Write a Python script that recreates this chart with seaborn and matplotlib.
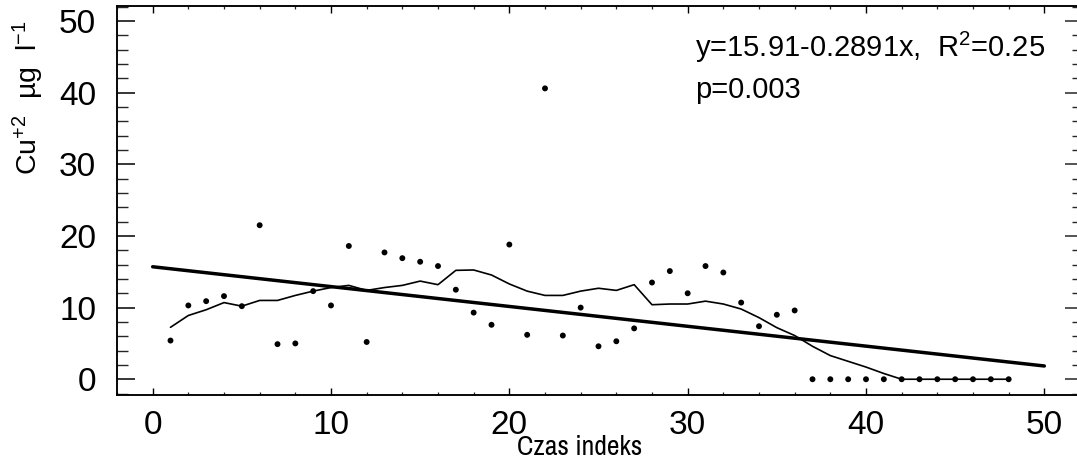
import numpy as np
import pandas as pd
import matplotlib
matplotlib.use("Agg")
import matplotlib.pyplot as plt
from matplotlib.ticker import MultipleLocator
import seaborn as sns

# ---- data ----
time_index = list(range(1, 49))
cu_values = [5.4, 10.3, 10.9, 11.6, 10.2, 21.5, 4.9, 5.0, 12.3, 10.3,
             18.6, 5.2, 17.7, 16.9, 16.4, 15.8, 12.5, 9.3, 7.6, 18.8,
             6.2, 40.6, 6.1, 10.0, 4.6, 5.3, 7.1, 13.5, 15.1, 12.0,
             15.8, 14.9, 10.7, 7.4, 9.0, 9.6, 0.0, 0.0, 0.0, 0.0,
             0.0, 0.0, 0.0, 0.0, 0.0, 0.0, 0.0, 0.0]
smooth_values = [7.25, 8.9, 9.7, 10.7, 10.2, 11.0, 11.0, 11.7, 12.3, 12.8,
                 13.1, 12.4, 12.8, 13.1, 13.7, 13.2, 15.2, 15.25, 14.55, 13.3,
                 12.3, 11.7, 11.7, 12.3, 12.7, 12.4, 13.2, 10.4, 10.5, 10.5,
                 10.9, 10.5, 9.8, 8.6, 7.2, 6.1, 4.6, 3.3, 2.5, 1.7,
                 0.8, 0.0, 0.0, 0.0, 0.0, 0.0, 0.0, 0.0]
reg_x = [0, 50]
reg_y = [15.7, 1.85]
x_ticks = [0, 10, 20, 30, 40, 50]
y_ticks = [0, 10, 20, 30, 40, 50]
eq_text = "y=15.91-0.2891x,  R$^2$=0.25"
p_text = "p=0.003"
x_label = "Czas indeks"
y_label = "Cu$^{+2}$  µg  l$^{-1}$"

pts = pd.DataFrame({"t": time_index, "cu": cu_values})
sm = pd.DataFrame({"t": time_index, "s": smooth_values})
reg = pd.DataFrame({"t": reg_x, "r": reg_y})

sns.set_theme(style="white")
plt.rcParams["font.family"] = ["Liberation Sans", "DejaVu Sans"]
plt.rcParams["mathtext.fontset"] = "custom"
plt.rcParams["mathtext.rm"] = "Liberation Sans"
plt.rcParams["mathtext.it"] = "Liberation Sans"
plt.rcParams["mathtext.default"] = "regular"

fig = plt.figure(figsize=(10.77, 4.65), dpi=100)
ax = fig.add_axes([117/1077, 1 - 395/465, (1080 - 117)/1077, (395 - 6)/465])

sns.lineplot(data=reg, x="t", y="r", ax=ax, color="black", linewidth=2.5)
sns.lineplot(data=sm, x="t", y="s", ax=ax, color="black", linewidth=1.2)
sns.scatterplot(data=pts, x="t", y="cu", ax=ax, color="black", s=18,
                edgecolor="none", zorder=5)

ax.set_xlim(-2.0, 52.0)
ax.set_ylim(-2.2, 52.1)
ax.set_xlabel("")
ax.set_ylabel("")

ax.xaxis.set_minor_locator(MultipleLocator(2))
ax.yaxis.set_minor_locator(MultipleLocator(2))
ax.set_xticks(x_ticks)
ax.set_yticks(y_ticks)

tick_family = ["Liberation Sans", "DejaVu Sans"]
ax.set_xticklabels([str(v) for v in x_ticks], family=tick_family, fontsize=24)
ax.set_yticklabels([str(v) for v in y_ticks], family=tick_family, fontsize=24)

ax.tick_params(axis="x", which="major", direction="in", length=5, width=1.0,
               top=True, bottom=True, pad=11, colors="black")
ax.tick_params(axis="x", which="minor", direction="in", length=2.5, width=0.9,
               top=True, bottom=True)
ax.tick_params(axis="y", which="major", direction="in", length=13, width=1.1,
               left=True, right=False, pad=15, colors="black")
ax.tick_params(axis="y", which="minor", direction="in", length=8, width=1.0,
               left=True, right=False)

ax2 = ax.twinx()
ax2.set_ylim(ax.get_ylim())
ax2.yaxis.set_major_locator(MultipleLocator(10))
ax2.yaxis.set_minor_locator(MultipleLocator(2))
ax2.tick_params(axis="y", which="major", direction="in", length=11, width=1.1,
                labelright=False, right=True)
ax2.tick_params(axis="y", which="minor", direction="in", length=5.5, width=1.0,
                right=True)
ax2.grid(False)

for a in (ax, ax2):
    for sp in a.spines.values():
        sp.set_color("black")
        sp.set_linewidth(1.1)
        sp.set_visible(True)

fig.text(695/1077, 1 - 57/465, eq_text, fontsize=21, ha="left",
         va="baseline", color="black")
fig.text(695/1077, 1 - 98/465, p_text, fontsize=21, ha="left",
         va="baseline", color="black")
fig.text(517/1077, 1 - 455/465, x_label,
         family=["Archivo Narrow", "Liberation Sans"], fontsize=20,
         ha="left", va="baseline", color="black")
fig.text(28/1077, 1 - 20/465, y_label, fontsize=20.5, rotation=90,
         ha="center", va="top", color="black")

fig.savefig("out.png", dpi=100, facecolor="white")
